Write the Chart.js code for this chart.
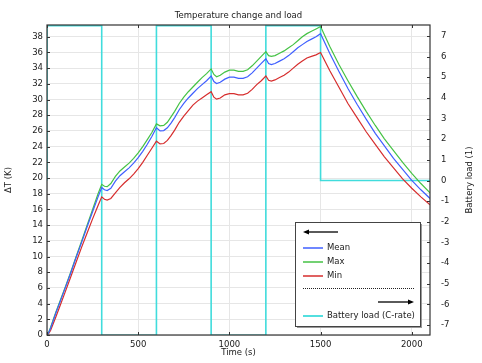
<!DOCTYPE html>
<html>
<head>
<meta charset="utf-8">
<script src="https://cdn.jsdelivr.net/npm/chart.js@4.4.1/dist/chart.umd.min.js"></script>
<style>
  body { margin: 0; background: #fff; }
</style>
</head>
<body>
<canvas id="myChart" width="482" height="363"></canvas>
<script>
// time (s)
const times = [0, 10, 20, 35, 50, 68, 100, 130, 160, 190, 220, 250, 280, 300,
  315, 330, 350, 375, 400, 425, 450, 475, 500, 525, 550, 575, 600,
  620, 640, 660, 680, 700, 725, 750, 775, 800, 825, 850, 875, 900,
  915, 930, 950, 975, 1000, 1025, 1050, 1075, 1100, 1125, 1150, 1175, 1200,
  1215, 1230, 1250, 1275, 1300, 1325, 1350, 1375, 1400, 1425, 1450, 1475, 1500,
  1550, 1600, 1650, 1700, 1750, 1800, 1850, 1900, 1950, 2000, 2050, 2100];

// temperature change (K)
const meanT = [0, 0.35, 0.9, 1.9, 2.9, 4.0, 6.0, 7.9, 9.9, 11.8, 13.8, 15.7, 17.6, 18.8,
  18.5, 18.4, 18.7, 19.6, 20.3, 20.8, 21.3, 21.9, 22.6, 23.4, 24.3, 25.3, 26.4,
  26.0, 26.05, 26.4, 27.0, 27.7, 28.7, 29.5, 30.2, 30.8, 31.4, 31.9, 32.4, 33.0,
  32.3, 32.05, 32.2, 32.6, 32.85, 32.85, 32.7, 32.7, 32.9, 33.4, 34.0, 34.6, 35.2,
  34.6, 34.45, 34.6, 34.9, 35.2, 35.6, 36.1, 36.6, 37.0, 37.4, 37.7, 38.0, 38.4,
  35.9, 33.6, 31.4, 29.4, 27.5, 25.7, 24.1, 22.5, 21.1, 19.7, 18.5, 17.4];

const maxT = [0, 0.4, 1.0, 2.0, 3.0, 4.1, 6.1, 8.0, 10.0, 12.0, 14.0, 16.0, 18.0, 19.2,
  18.95, 18.9, 19.3, 20.2, 20.9, 21.4, 21.9, 22.5, 23.2, 24.0, 24.9, 25.8, 26.9,
  26.65, 26.7, 27.1, 27.8, 28.5, 29.5, 30.3, 31.0, 31.6, 32.2, 32.8, 33.3, 33.9,
  33.2, 32.9, 33.1, 33.5, 33.75, 33.75, 33.6, 33.6, 33.8, 34.3, 34.9, 35.5, 36.1,
  35.6, 35.5, 35.6, 35.9, 36.2, 36.6, 37.0, 37.5, 38.0, 38.4, 38.7, 39.0, 39.3,
  36.8, 34.5, 32.4, 30.4, 28.5, 26.7, 25.0, 23.5, 22.0, 20.6, 19.3, 18.1];

const minT = [0, 0.2, 0.6, 1.5, 2.4, 3.5, 5.5, 7.4, 9.3, 11.2, 13.0, 14.8, 16.5, 17.6,
  17.3, 17.2, 17.4, 18.1, 18.8, 19.4, 19.9, 20.5, 21.2, 22.0, 22.9, 23.8, 24.7,
  24.35, 24.4, 24.8, 25.4, 26.1, 27.1, 27.9, 28.6, 29.3, 29.8, 30.2, 30.6, 31.0,
  30.3, 30.05, 30.2, 30.6, 30.75, 30.75, 30.6, 30.6, 30.8, 31.3, 31.9, 32.4, 33.0,
  32.45, 32.35, 32.5, 32.8, 33.1, 33.5, 34.0, 34.5, 34.9, 35.3, 35.5, 35.7, 36.0,
  33.7, 31.6, 29.5, 27.7, 25.9, 24.3, 22.7, 21.3, 19.9, 18.7, 17.6, 16.6];

// battery load (C-rate)
const loadTimes = [0, 0, 300, 300, 600, 600, 900, 900, 1200, 1200, 1500, 1500, 2100];
const loadValues = [0, 7.5, 7.5, -7.5, -7.5, 7.5, 7.5, -7.5, -7.5, 7.5, 7.5, 0, 0];

// axis ticks
const xTicks = [0, 500, 1000, 1500, 2000];
const leftTicks = [0, 2, 4, 6, 8, 10, 12, 14, 16, 18, 20, 22, 24, 26, 28, 30, 32, 34, 36, 38];
const rightTicks = [-7, -6, -5, -4, -3, -2, -1, 0, 1, 2, 3, 4, 5, 6, 7];

const BLUE = '#3f5fff';
const GREEN = '#45c245';
const RED = '#d62d2d';
const CYAN = '#40dcdc';

Chart.defaults.font.family = 'DejaVu Sans';
Chart.defaults.font.size = 8.5;
Chart.defaults.color = '#1a1a1a';

function pts(xs, ys) {
  return xs.map((x, i) => ({ x: x, y: ys[i] }));
}

// frame, inward ticks, legend box and the remaining titles
const decor = {
  id: 'decor',
  afterDatasetsDraw(chart) {
    const c = chart.ctx;
    const a = chart.chartArea;
    const sx = chart.scales.x, sy = chart.scales.y, sy1 = chart.scales.y1;
    c.save();
    c.strokeStyle = '#333';
    c.lineWidth = 1.2;
    c.strokeRect(a.left, a.top, a.right - a.left, a.bottom - a.top);

    c.lineWidth = 1;
    c.beginPath();
    xTicks.forEach(v => {
      const px = Math.round(sx.getPixelForValue(v)) + 0.5;
      c.moveTo(px, a.bottom); c.lineTo(px, a.bottom - 3);
      c.moveTo(px, a.top); c.lineTo(px, a.top + 3);
    });
    leftTicks.forEach(v => {
      const py = Math.round(sy.getPixelForValue(v)) + 0.5;
      c.moveTo(a.left, py); c.lineTo(a.left + 3, py);
    });
    rightTicks.forEach(v => {
      const py = Math.round(sy1.getPixelForValue(v)) + 0.5;
      c.moveTo(a.right, py); c.lineTo(a.right - 3, py);
    });
    c.stroke();

    // legend
    const bx = 295, by = 222, bw = 125, bh = 104;
    c.fillStyle = '#999';
    c.fillRect(bx + 2, by + 2, bw, bh);
    c.fillStyle = '#fff';
    c.fillRect(bx, by, bw, bh);
    c.strokeStyle = '#444';
    c.lineWidth = 1;
    c.strokeRect(bx + 0.5, by + 0.5, bw, bh);

    function arrow(x1, x2, y) {
      const dir = x2 > x1 ? 1 : -1;
      c.strokeStyle = '#000';
      c.fillStyle = '#000';
      c.lineWidth = 1.3;
      c.beginPath(); c.moveTo(x1, y); c.lineTo(x2 - dir * 4, y); c.stroke();
      c.beginPath();
      c.moveTo(x2, y); c.lineTo(x2 - dir * 6, y - 2.5); c.lineTo(x2 - dir * 6, y + 2.5);
      c.closePath(); c.fill();
    }
    arrow(338, 303, 232);

    const items = [['Mean', BLUE, 248], ['Max', GREEN, 262], ['Min', RED, 276]];
    c.font = '8.5px "DejaVu Sans"';
    c.textBaseline = 'middle';
    c.textAlign = 'left';
    items.forEach(it => {
      c.strokeStyle = it[1]; c.lineWidth = 1.5;
      c.beginPath(); c.moveTo(303, it[2]); c.lineTo(323, it[2]); c.stroke();
      c.fillStyle = '#1a1a1a';
      c.fillText(it[0], 327, it[2]);
    });

    c.strokeStyle = '#222';
    c.lineWidth = 1;
    c.setLineDash([1, 1]);
    c.beginPath(); c.moveTo(303, 288.5); c.lineTo(414, 288.5); c.stroke();
    c.setLineDash([]);

    arrow(378, 414, 302);

    c.strokeStyle = CYAN; c.lineWidth = 1.8;
    c.beginPath(); c.moveTo(303, 316); c.lineTo(323, 316); c.stroke();
    c.fillStyle = '#1a1a1a';
    c.fillText('Battery load (C-rate)', 327, 316);

    // chart title
    c.textAlign = 'center';
    c.fillText('Temperature change and load', 238.5, 16);

    // right axis title, reading upwards
    c.translate(470, 180);
    c.rotate(-Math.PI / 2);
    c.fillText('Battery load (1)', 0, 0);
    c.restore();
  }
};

const ctx = document.getElementById('myChart');

const newChart = new Chart(ctx, {
  type: 'line',
  data: {
    datasets: [
      { label: 'Mean', data: pts(times, meanT), borderColor: BLUE, borderWidth: 1.2, pointRadius: 0, yAxisID: 'y' },
      { label: 'Max', data: pts(times, maxT), borderColor: GREEN, borderWidth: 1.2, pointRadius: 0, yAxisID: 'y' },
      { label: 'Min', data: pts(times, minT), borderColor: RED, borderWidth: 1.2, pointRadius: 0, yAxisID: 'y' },
      { label: 'Battery load (C-rate)', data: pts(loadTimes, loadValues), borderColor: CYAN, borderWidth: 1.6, pointRadius: 0, yAxisID: 'y1' },
    ],
  },
  options: {
    responsive: false,
    animation: false,
    layout: { padding: { top: 25, left: 0, right: 0, bottom: 0 } },
    plugins: { legend: { display: false }, tooltip: { enabled: false } },
    scales: {
      x: {
        type: 'linear',
        min: 0,
        max: 2100,
        afterBuildTicks: s => { s.ticks = xTicks.map(v => ({ value: v })); },
        afterFit: s => { s.height = 28; },
        grid: { color: '#e6e6e6', drawTicks: false },
        border: { display: false },
        ticks: { padding: 5, maxRotation: 0, callback: v => String(v) },
        title: { display: true, text: 'Time (s)', padding: { top: 0, bottom: 5 } },
      },
      y: {
        position: 'left',
        min: 0,
        max: 39.5,
        afterBuildTicks: s => { s.ticks = leftTicks.map(v => ({ value: v })); },
        afterFit: s => { s.width = 47; },
        grid: { color: '#e6e6e6', drawTicks: false },
        border: { display: false },
        ticks: { padding: 4 },
        title: { display: true, text: 'ΔT (K)', padding: { top: 4, bottom: 0 } },
      },
      y1: {
        position: 'right',
        min: -7.48,
        max: 7.53,
        afterBuildTicks: s => { s.ticks = rightTicks.map(v => ({ value: v })); },
        afterFit: s => { s.width = 52; },
        grid: { display: false, drawOnChartArea: false },
        border: { display: false },
        ticks: { padding: 3 },
      },
    },
  },
  plugins: [decor],
});
</script>
</body>
</html>
